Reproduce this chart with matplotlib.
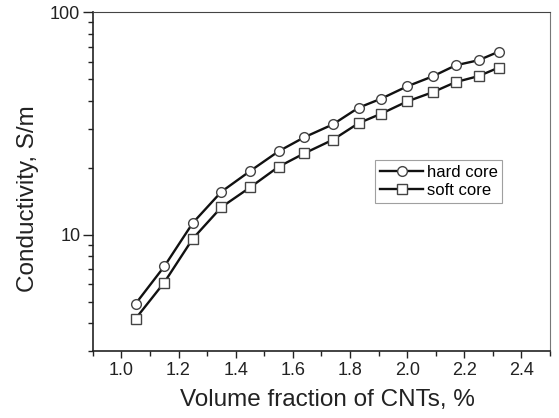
import numpy as np
import matplotlib.pyplot as plt
from matplotlib.ticker import FixedLocator, NullFormatter, MultipleLocator

plt.rcParams['font.family'] = ['Liberation Sans', 'DejaVu Sans']

# volume fraction of CNTs, %
vol_frac = [1.05, 1.15, 1.25, 1.35, 1.45, 1.55, 1.64, 1.74, 1.83, 1.91,
            2.00, 2.09, 2.17, 2.25, 2.32]
# conductivity, S/m
hard_core = [4.9, 7.2, 11.3, 15.6, 19.3, 23.7, 27.4, 31.3, 37.2, 40.9,
             46.4, 51.5, 57.7, 60.8, 66.4]
soft_core = [4.2, 6.1, 9.6, 13.3, 16.3, 20.2, 23.2, 26.7, 31.7, 35.0,
             39.7, 43.7, 48.5, 51.6, 56.3]

xticks = [1.0, 1.2, 1.4, 1.6, 1.8, 2.0, 2.2, 2.4]
minor_y = [3, 4, 5, 6, 7, 8, 9, 20, 30, 40, 50, 60, 70, 80, 90]

fig = plt.figure(figsize=(5.59, 4.18), dpi=100)
ax = fig.add_axes([0.166, 0.160, 0.818, 0.811])

style = dict(color='#111111', lw=1.7, ms=7, mfc='white', mec='#444444', mew=1.0)
ax.plot(vol_frac, hard_core, marker='o', label='hard core', **style)
ax.plot(vol_frac, soft_core, marker='s', label='soft core', **style)

ax.set_yscale('log')
ax.set_xlim(0.9, 2.5)
ax.set_ylim(3, 100)

ax.xaxis.set_major_locator(FixedLocator(xticks))
ax.xaxis.set_minor_locator(MultipleLocator(0.1))
ax.set_xticklabels(['%.1f' % t for t in xticks])
ax.yaxis.set_major_locator(FixedLocator([10, 100]))
ax.set_yticklabels(['10', '100'])
ax.yaxis.set_minor_locator(FixedLocator(minor_y))
ax.yaxis.set_minor_formatter(NullFormatter())

ax.tick_params(which='major', direction='out', length=5, width=1.0,
               labelsize=13, colors='#222222', pad=3)
ax.tick_params(axis='y', which='major', length=7, pad=2)
ax.tick_params(which='minor', direction='out', length=3.5, width=1.0, colors='#222222')
ax.tick_params(top=False, right=False, which='both')

for s in ['left', 'bottom']:
    ax.spines[s].set_color('#222222')
    ax.spines[s].set_linewidth(1.2)
ax.spines['top'].set_color('#444444')
ax.spines['right'].set_color('#777777')

ax.set_xlabel('Volume fraction of CNTs, %', fontsize=17.5, color='#222222', labelpad=7)
ax.set_ylabel('Conductivity, S/m', fontsize=17.5, color='#222222', labelpad=8)
ax.xaxis.label.set_x(0.514)
ax.yaxis.label.set_y(0.451)

leg = ax.legend(loc='upper left', bbox_to_anchor=(0.617, 0.563), fontsize=12,
                frameon=True, fancybox=False, edgecolor='#888888',
                handlelength=2.6, handletextpad=0.2, borderpad=0.3,
                labelspacing=0.15, borderaxespad=0)
leg.get_frame().set_linewidth(0.8)

fig.savefig('out.png', dpi=100)
